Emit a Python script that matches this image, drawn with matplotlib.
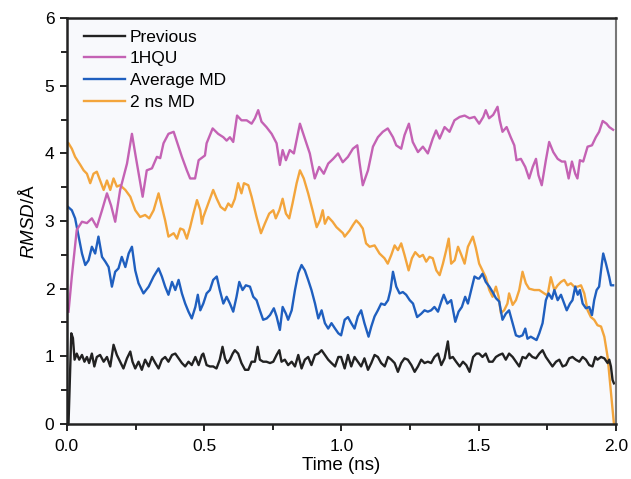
"""RMSD over time for the four structures (Previous, 1HQU, Average MD, 2 ns MD)."""

import matplotlib
matplotlib.use("Agg")
import matplotlib.pyplot as plt
from matplotlib.ticker import MultipleLocator, FormatStrFormatter


# figure size in pixels
WIDTH = 631
HEIGHT = 479
DPI = 100

plt.rcParams["font.family"] = ["Liberation Sans", "DejaVu Sans"]
plt.rcParams["mathtext.fontset"] = "custom"
plt.rcParams["mathtext.it"] = "Liberation Sans:italic"
plt.rcParams["mathtext.rm"] = "Liberation Sans"


# --- Previous (black) ---
prev_time = [0.000, 0.006, 0.011, 0.016, 0.022, 0.028, 0.036, 0.045, 0.055, 0.064,
             0.073, 0.081, 0.091, 0.100, 0.109, 0.121, 0.134, 0.146, 0.158, 0.170,
             0.182, 0.194, 0.206, 0.219, 0.231, 0.239, 0.249, 0.261, 0.273, 0.285,
             0.298, 0.310, 0.322, 0.334, 0.346, 0.358, 0.370, 0.383, 0.395, 0.407,
             0.419, 0.431, 0.443, 0.455, 0.468, 0.480, 0.492, 0.497, 0.509, 0.521,
             0.533, 0.545, 0.557, 0.567, 0.576, 0.584, 0.594, 0.604, 0.612, 0.624,
             0.636, 0.649, 0.661, 0.673, 0.685, 0.695, 0.703, 0.715, 0.727, 0.740,
             0.752, 0.764, 0.774, 0.782, 0.794, 0.806, 0.819, 0.831, 0.843, 0.855,
             0.867, 0.879, 0.891, 0.904, 0.916, 0.928, 0.940, 0.952, 0.964, 0.977,
             0.989, 0.999, 1.012, 1.024, 1.036, 1.048, 1.060, 1.072, 1.084, 1.097,
             1.109, 1.121, 1.133, 1.145, 1.158, 1.170, 1.182, 1.194, 1.206, 1.218,
             1.230, 1.242, 1.255, 1.267, 1.279, 1.291, 1.303, 1.315, 1.327, 1.339,
             1.352, 1.364, 1.376, 1.388, 1.395, 1.406, 1.418, 1.431, 1.443, 1.455,
             1.467, 1.480, 1.492, 1.502, 1.514, 1.526, 1.538, 1.551, 1.563, 1.575,
             1.587, 1.599, 1.611, 1.624, 1.636, 1.648, 1.660, 1.672, 1.684, 1.696,
             1.709, 1.721, 1.733, 1.745, 1.757, 1.769, 1.782, 1.794, 1.806, 1.818,
             1.830, 1.842, 1.854, 1.867, 1.879, 1.891, 1.903, 1.915, 1.925, 1.933,
             1.946, 1.958, 1.970, 1.976, 1.982, 1.988, 1.993]
prev_rmsd = [0.01, 0.01, 0.65, 1.34, 1.27, 0.95, 1.04, 0.95, 1.02, 0.92,
             0.99, 0.90, 1.04, 0.85, 0.99, 1.02, 0.92, 0.99, 0.85, 1.17,
             1.02, 0.92, 0.82, 0.97, 1.07, 0.92, 0.82, 0.92, 0.80, 0.95,
             0.85, 0.99, 0.90, 0.82, 0.95, 0.99, 0.92, 1.02, 1.04, 0.97,
             0.90, 0.85, 0.92, 0.87, 0.99, 0.87, 1.02, 1.04, 0.87, 0.85,
             0.85, 0.82, 0.95, 1.14, 0.97, 0.90, 0.95, 1.04, 1.09, 1.04,
             0.90, 0.80, 0.80, 0.92, 0.92, 1.14, 0.95, 0.92, 0.92, 0.90,
             0.92, 1.02, 1.09, 0.92, 0.95, 0.87, 0.92, 0.85, 1.02, 0.82,
             0.95, 0.99, 0.87, 1.02, 1.04, 1.09, 1.02, 0.95, 0.90, 0.85,
             0.99, 0.99, 0.82, 1.02, 0.85, 0.99, 0.92, 0.85, 0.97, 0.80,
             0.90, 1.02, 0.99, 0.90, 0.85, 0.99, 0.95, 0.90, 0.77, 0.90,
             0.97, 0.95, 0.87, 0.77, 0.85, 0.95, 0.90, 0.92, 0.90, 0.99,
             1.04, 0.87, 0.97, 1.22, 0.97, 0.99, 0.92, 0.85, 0.92, 0.87,
             0.77, 0.99, 1.04, 1.04, 0.99, 1.04, 0.92, 0.92, 0.99, 1.02,
             1.04, 0.95, 1.04, 0.99, 0.92, 0.85, 0.99, 0.97, 1.04, 0.99,
             0.97, 1.04, 1.09, 0.99, 0.92, 0.85, 0.92, 0.95, 0.85, 0.87,
             0.97, 0.99, 0.95, 0.92, 0.99, 0.95, 0.87, 0.85, 0.99, 0.95,
             0.99, 0.97, 0.90, 0.95, 0.85, 0.65, 0.60]

# --- 1HQU (magenta) ---
hqu_time = [0.006, 0.018, 0.036, 0.055, 0.073, 0.091, 0.109, 0.128, 0.146, 0.161,
            0.176, 0.194, 0.219, 0.237, 0.251, 0.276, 0.291, 0.310, 0.328, 0.340,
            0.352, 0.370, 0.389, 0.407, 0.419, 0.437, 0.449, 0.467, 0.480, 0.503,
            0.509, 0.531, 0.551, 0.570, 0.582, 0.594, 0.606, 0.620, 0.636, 0.655,
            0.673, 0.685, 0.697, 0.709, 0.727, 0.746, 0.764, 0.776, 0.786, 0.798,
            0.812, 0.827, 0.849, 0.861, 0.871, 0.885, 0.903, 0.919, 0.936, 0.952,
            0.970, 0.988, 1.005, 1.024, 1.042, 1.058, 1.066, 1.078, 1.097, 1.115,
            1.133, 1.151, 1.169, 1.188, 1.200, 1.218, 1.230, 1.246, 1.260, 1.279,
            1.297, 1.315, 1.333, 1.345, 1.358, 1.376, 1.394, 1.412, 1.431, 1.449,
            1.467, 1.485, 1.502, 1.517, 1.526, 1.538, 1.553, 1.569, 1.577, 1.587,
            1.602, 1.617, 1.630, 1.638, 1.654, 1.670, 1.684, 1.697, 1.709, 1.718,
            1.730, 1.745, 1.757, 1.772, 1.788, 1.803, 1.815, 1.828, 1.840, 1.852,
            1.860, 1.869, 1.881, 1.897, 1.913, 1.927, 1.939, 1.952, 1.966, 1.976,
            1.990]
hqu_rmsd = [1.66, 2.18, 2.87, 2.99, 2.97, 3.04, 2.91, 3.16, 3.41, 3.23,
            2.99, 3.46, 3.85, 4.29, 3.95, 3.36, 3.75, 3.78, 3.95, 3.93,
            4.15, 4.29, 4.32, 4.10, 3.95, 3.75, 3.63, 3.63, 3.90, 3.97,
            4.15, 4.37, 4.29, 4.24, 4.19, 4.24, 4.17, 4.56, 4.49, 4.49,
            4.44, 4.52, 4.64, 4.47, 4.39, 4.29, 4.15, 3.83, 4.05, 3.90,
            4.05, 4.00, 4.44, 4.29, 4.17, 4.00, 3.63, 3.80, 3.70, 3.85,
            3.92, 4.00, 3.87, 3.95, 4.07, 4.12, 3.87, 3.53, 3.75, 4.10,
            4.24, 4.32, 4.37, 4.24, 4.12, 4.07, 4.27, 4.44, 4.17, 4.02,
            4.10, 4.00, 4.22, 4.34, 4.22, 4.39, 4.32, 4.49, 4.54, 4.56,
            4.52, 4.54, 4.44, 4.54, 4.64, 4.52, 4.57, 4.69, 4.49, 4.32,
            4.39, 4.24, 4.12, 3.90, 3.92, 3.80, 3.63, 3.80, 3.92, 3.68,
            3.53, 3.90, 4.17, 4.02, 3.92, 3.88, 3.88, 3.63, 3.88, 3.70,
            3.63, 3.90, 3.88, 4.10, 4.12, 4.24, 4.32, 4.48, 4.44, 4.39,
            4.35]

# --- Average MD (blue) ---
avg_time = [0.004, 0.018, 0.030, 0.043, 0.055, 0.067, 0.079, 0.091, 0.103, 0.115,
            0.128, 0.140, 0.152, 0.164, 0.176, 0.188, 0.200, 0.213, 0.225, 0.237,
            0.249, 0.261, 0.279, 0.298, 0.316, 0.334, 0.346, 0.358, 0.370, 0.383,
            0.395, 0.407, 0.419, 0.431, 0.443, 0.455, 0.468, 0.477, 0.486, 0.497,
            0.509, 0.521, 0.533, 0.546, 0.557, 0.570, 0.582, 0.594, 0.606, 0.618,
            0.628, 0.640, 0.652, 0.667, 0.679, 0.691, 0.703, 0.715, 0.728, 0.740,
            0.754, 0.764, 0.776, 0.786, 0.798, 0.806, 0.819, 0.831, 0.843, 0.855,
            0.867, 0.879, 0.891, 0.904, 0.916, 0.928, 0.940, 0.952, 0.964, 0.977,
            0.989, 0.999, 1.012, 1.024, 1.036, 1.048, 1.060, 1.072, 1.084, 1.099,
            1.109, 1.121, 1.133, 1.145, 1.158, 1.170, 1.179, 1.188, 1.200, 1.212,
            1.224, 1.236, 1.249, 1.261, 1.276, 1.291, 1.303, 1.315, 1.327, 1.339,
            1.352, 1.364, 1.373, 1.386, 1.400, 1.415, 1.427, 1.439, 1.451, 1.461,
            1.473, 1.485, 1.497, 1.502, 1.514, 1.526, 1.539, 1.551, 1.563, 1.575,
            1.587, 1.599, 1.611, 1.624, 1.636, 1.648, 1.660, 1.670, 1.678, 1.690,
            1.703, 1.711, 1.721, 1.733, 1.745, 1.755, 1.767, 1.776, 1.788, 1.800,
            1.812, 1.821, 1.833, 1.842, 1.852, 1.861, 1.869, 1.879, 1.891, 1.903,
            1.913, 1.921, 1.930, 1.939, 1.949, 1.954, 1.964, 1.976, 1.982, 1.990]
avg_rmsd = [3.21, 3.16, 3.04, 2.77, 2.52, 2.35, 2.42, 2.62, 2.52, 2.77,
            2.47, 2.40, 2.32, 2.03, 2.25, 2.30, 2.47, 2.32, 2.52, 2.62,
            2.27, 2.08, 1.93, 2.03, 2.18, 2.30, 2.18, 2.03, 1.91, 2.10,
            1.98, 2.13, 1.93, 1.78, 1.66, 1.56, 1.73, 1.91, 1.68, 1.78,
            1.93, 1.98, 2.13, 2.18, 1.98, 1.78, 1.88, 1.78, 1.66, 1.88,
            2.10, 1.98, 2.05, 2.03, 1.88, 1.83, 1.68, 1.54, 1.56, 1.61,
            1.71, 1.59, 1.39, 1.73, 1.63, 1.54, 1.68, 1.98, 2.23, 2.35,
            2.27, 2.13, 1.98, 1.78, 1.56, 1.68, 1.49, 1.41, 1.49, 1.41,
            1.34, 1.31, 1.54, 1.58, 1.49, 1.41, 1.59, 1.68, 1.49, 1.29,
            1.44, 1.59, 1.68, 1.78, 1.76, 1.83, 1.98, 2.25, 2.03, 1.93,
            1.95, 1.91, 1.83, 1.78, 1.58, 1.63, 1.68, 1.66, 1.68, 1.73,
            1.66, 1.81, 1.91, 1.78, 1.83, 1.51, 1.66, 1.73, 1.88, 1.78,
            1.98, 2.18, 2.15, 2.15, 2.22, 2.10, 2.03, 1.95, 1.86, 1.81,
            1.54, 1.63, 1.68, 1.49, 1.31, 1.29, 1.31, 1.41, 1.26, 1.29,
            1.26, 1.24, 1.34, 1.49, 1.83, 1.93, 1.85, 1.98, 1.83, 1.91,
            1.78, 1.68, 1.78, 1.83, 2.03, 1.91, 1.98, 1.78, 1.71, 1.73,
            1.61, 1.83, 1.98, 2.03, 2.37, 2.52, 2.37, 2.17, 2.05, 2.05]

# --- 2 ns MD (orange) ---
md2_time = [0.006, 0.018, 0.030, 0.049, 0.061, 0.073, 0.085, 0.097, 0.109, 0.121,
            0.134, 0.146, 0.158, 0.170, 0.182, 0.194, 0.213, 0.231, 0.249, 0.267,
            0.285, 0.300, 0.316, 0.334, 0.346, 0.358, 0.370, 0.389, 0.401, 0.413,
            0.425, 0.437, 0.449, 0.461, 0.474, 0.486, 0.492, 0.497, 0.515, 0.533,
            0.546, 0.560, 0.576, 0.588, 0.600, 0.612, 0.624, 0.636, 0.645, 0.661,
            0.673, 0.691, 0.707, 0.721, 0.737, 0.752, 0.761, 0.774, 0.786, 0.798,
            0.810, 0.822, 0.837, 0.849, 0.863, 0.879, 0.895, 0.910, 0.922, 0.932,
            0.940, 0.952, 0.968, 0.982, 1.006, 1.012, 1.030, 1.042, 1.054, 1.066,
            1.078, 1.090, 1.103, 1.121, 1.139, 1.157, 1.169, 1.182, 1.194, 1.206,
            1.218, 1.230, 1.245, 1.257, 1.269, 1.285, 1.297, 1.309, 1.321, 1.333,
            1.346, 1.358, 1.370, 1.382, 1.391, 1.400, 1.413, 1.425, 1.437, 1.449,
            1.461, 1.479, 1.490, 1.502, 1.514, 1.526, 1.539, 1.551, 1.563, 1.573,
            1.581, 1.593, 1.605, 1.611, 1.624, 1.636, 1.648, 1.660, 1.672, 1.684,
            1.703, 1.721, 1.739, 1.751, 1.763, 1.776, 1.788, 1.800, 1.812, 1.824,
            1.836, 1.848, 1.861, 1.873, 1.885, 1.897, 1.909, 1.921, 1.933, 1.946,
            1.958, 1.970, 1.978, 1.986, 1.993]
md2_rmsd = [4.15, 4.07, 3.95, 3.83, 3.75, 3.70, 3.56, 3.70, 3.73, 3.60,
            3.46, 3.60, 3.46, 3.63, 3.51, 3.53, 3.46, 3.36, 3.16, 3.06,
            3.09, 3.04, 3.16, 3.41, 3.21, 3.01, 2.77, 2.82, 2.74, 2.89,
            2.87, 2.74, 2.91, 3.11, 3.31, 3.16, 2.96, 3.06, 3.26, 3.46,
            3.33, 3.21, 3.16, 3.26, 3.21, 3.33, 3.56, 3.41, 3.56, 3.53,
            3.36, 3.06, 2.82, 2.96, 3.11, 3.16, 3.04, 3.16, 3.33, 3.11,
            3.04, 3.26, 3.56, 3.75, 3.63, 3.41, 3.16, 2.91, 3.01, 3.16,
            2.96, 3.06, 2.99, 2.91, 2.82, 2.77, 2.86, 2.94, 3.01, 2.96,
            2.89, 2.67, 2.62, 2.64, 2.52, 2.45, 2.37, 2.50, 2.64, 2.57,
            2.67, 2.50, 2.27, 2.45, 2.54, 2.47, 2.50, 2.40, 2.47, 2.45,
            2.27, 2.20, 2.37, 2.57, 2.74, 2.37, 2.42, 2.62, 2.50, 2.37,
            2.62, 2.77, 2.60, 2.37, 2.27, 2.17, 1.98, 1.88, 2.03, 1.88,
            1.64, 1.68, 1.78, 1.93, 1.76, 1.83, 1.98, 2.25, 2.08, 2.00,
            1.98, 1.98, 1.93, 1.90, 2.17, 1.98, 2.05, 2.10, 2.13, 2.05,
            2.08, 2.03, 2.03, 2.05, 1.93, 1.68, 1.58, 1.54, 1.46, 1.44,
            1.29, 0.99, 0.65, 0.31, 0.00]

SERIES = [
    ("Previous", prev_time, prev_rmsd, "#222222"),
    ("1HQU", hqu_time, hqu_rmsd, "#c462b4"),
    ("Average MD", avg_time, avg_rmsd, "#1f5fbf"),
    ("2 ns MD", md2_time, md2_rmsd, "#f3a53c"),
]


def draw_graph():
    """Draw the RMSD graph and save it to out.png."""
    fig = plt.figure(figsize=(WIDTH / DPI, HEIGHT / DPI), dpi=DPI)
    ax = fig.add_axes([0.106, 0.115, 0.870, 0.847])
    ax.set_facecolor("#f8f9fc")

    # draw in reverse so the black line ends up in front like the original
    lines = {}
    for label, t, r, color in reversed(SERIES):
        lines[label], = ax.plot(t, r, color=color, lw=1.7, label=label)

    ax.set_xlim(0, 2.0)
    ax.set_ylim(0, 6)

    ax.xaxis.set_major_locator(MultipleLocator(0.5))
    ax.xaxis.set_minor_locator(MultipleLocator(0.25))
    ax.xaxis.set_major_formatter(FormatStrFormatter("%.1f"))
    ax.yaxis.set_major_locator(MultipleLocator(1))
    ax.yaxis.set_minor_locator(MultipleLocator(0.5))

    ax.tick_params(which="both", direction="out", width=1.2, labelsize=12.5,
                   top=False, right=False)
    ax.tick_params(axis="x", pad=6)
    ax.tick_params(axis="y", pad=4)
    ax.tick_params(which="major", length=5)
    ax.tick_params(which="minor", length=4)

    for side in ("left", "bottom", "top"):
        ax.spines[side].set_linewidth(1.8)
        ax.spines[side].set_color("#222222")
    ax.spines["right"].set_linewidth(1.5)
    ax.spines["right"].set_color("#777777")

    ax.set_xlabel("Time (ns)", fontsize=13.5, labelpad=2)
    ax.set_ylabel(r"$\mathit{RMSD}$/Å", fontsize=13.5, labelpad=5)

    handles = [lines[s[0]] for s in SERIES]
    ax.legend(handles=handles, loc="upper left", frameon=False, fontsize=12.5,
              handlelength=2.4, handletextpad=0.25, labelspacing=0.38,
              borderaxespad=0.25, bbox_to_anchor=(0.01, 1.0))

    fig.savefig("out.png", dpi=DPI)
    plt.close(fig)


if __name__ == "__main__":
    draw_graph()
